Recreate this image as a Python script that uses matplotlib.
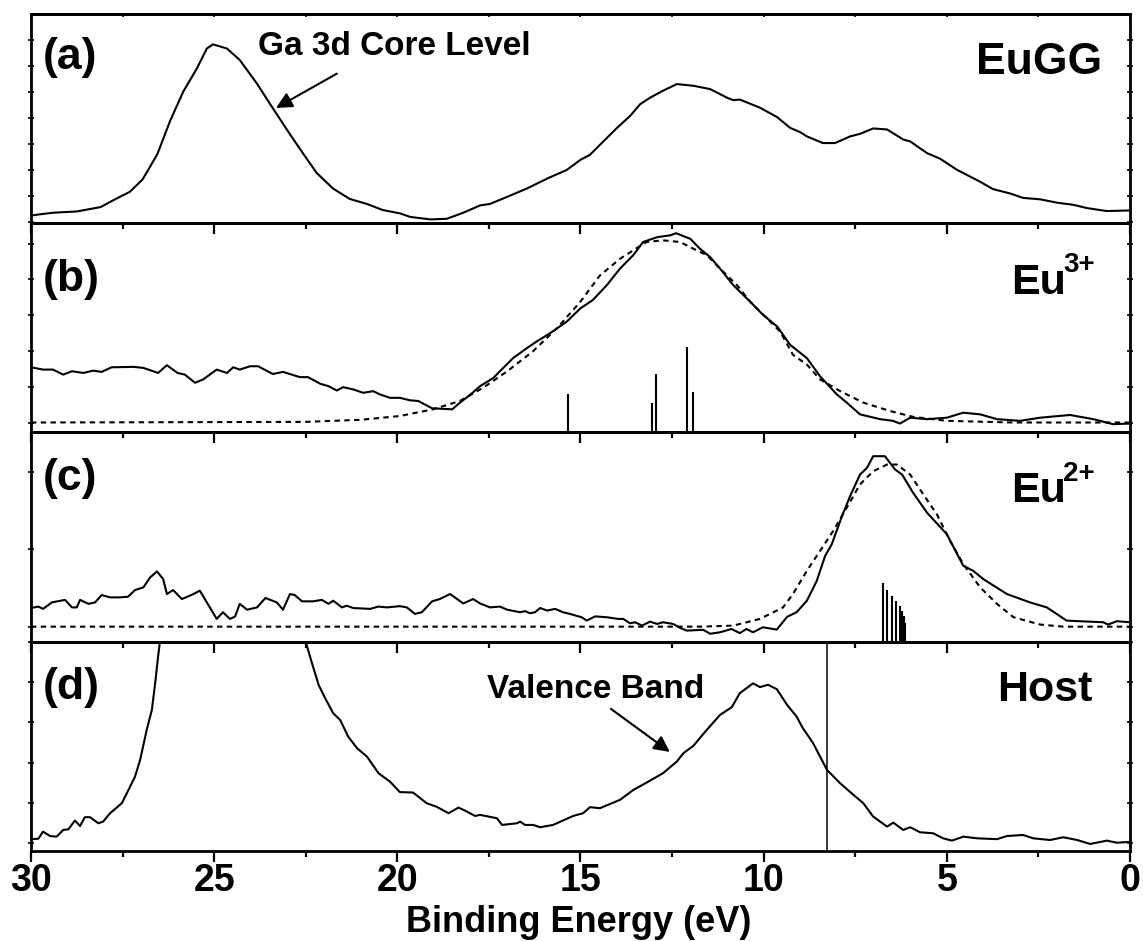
import matplotlib
matplotlib.use("Agg")
import matplotlib.pyplot as plt
import numpy as np
from matplotlib.ticker import MultipleLocator

plt.rcParams['font.family'] = ['Liberation Sans', 'DejaVu Sans']
plt.rcParams['font.weight'] = 'bold'

# (a) EuGG spectrum
a_ev = [30.0, 29.4, 28.75, 28.1, 27.75, 27.3, 26.95, 26.55, 26.2, 25.84, 25.47, 25.2, 25.03,
        24.65, 24.3, 23.83, 23.4, 22.93, 22.56, 22.2, 21.75, 21.3, 20.83, 20.4, 19.93, 19.65,
        19.1, 18.65, 18.2, 17.74, 17.47, 17.0, 16.46, 15.9, 15.37, 15.0, 14.74, 14.38, 14.0,
        13.65, 13.37, 13.1, 12.75, 12.37, 11.92, 11.46, 11.0, 10.83, 10.65, 10.1, 9.63, 9.28,
        9.0, 8.82, 8.38, 8.05, 7.64, 7.37, 7.01, 6.63, 6.19, 6.0, 5.54, 5.18, 4.72, 4.09, 3.74,
        3.27, 2.92, 2.45, 1.99, 1.55, 1.17, 0.63, 0.0]
a_int = [0.037, 0.05, 0.056, 0.077, 0.11, 0.15, 0.21, 0.33, 0.49, 0.63, 0.74, 0.835, 0.855,
         0.835, 0.78, 0.667, 0.55, 0.425, 0.33, 0.24, 0.165, 0.116, 0.092, 0.063, 0.047, 0.03,
         0.018, 0.021, 0.05, 0.085, 0.092, 0.126, 0.166, 0.214, 0.255, 0.303, 0.327, 0.39, 0.456,
         0.512, 0.569, 0.60, 0.633, 0.665, 0.657, 0.641, 0.60, 0.588, 0.591, 0.552, 0.507, 0.456,
         0.435, 0.415, 0.383, 0.383, 0.415, 0.427, 0.453, 0.448, 0.40, 0.391, 0.335, 0.308, 0.255,
         0.198, 0.163, 0.142, 0.121, 0.114, 0.098, 0.088, 0.072, 0.058, 0.061]

# (b) Eu3+ difference spectrum, fit and multiplet lines
b_ev = [30.0, 29.67, 29.4, 29.12, 28.88, 28.57, 28.3, 28.07, 27.8, 27.2, 26.93, 26.53, 26.29,
        26.0, 25.8, 25.52, 25.3, 24.93, 24.65, 24.48, 24.3, 24.02, 23.8, 23.4, 23.12, 22.66,
        22.44, 22.1, 21.88, 21.65, 21.48, 21.2, 20.93, 20.66, 20.47, 20.2, 19.93, 19.65, 19.43,
        19.05, 18.5, 18.29, 18.0, 17.74, 17.38, 17.2, 16.84, 16.46, 16.19, 15.83, 15.37, 15.0,
        14.66, 14.28, 13.92, 13.56, 13.29, 12.91, 12.55, 12.39, 12.0, 11.74, 11.46, 11.19,
        10.83, 10.37, 10.02, 9.63, 9.28, 8.82, 8.46, 8.0, 7.73, 7.37, 6.82, 6.47, 6.28, 6.0,
        5.54, 5.0, 4.55, 4.09, 3.63, 3.0, 2.45, 1.64, 1.0, 0.46, 0.0]
b_int = [0.311, 0.30, 0.30, 0.276, 0.292, 0.284, 0.295, 0.289, 0.311, 0.313, 0.308, 0.284,
         0.321, 0.284, 0.276, 0.237, 0.253, 0.30, 0.284, 0.311, 0.30, 0.316, 0.316, 0.279,
         0.289, 0.264, 0.264, 0.232, 0.221, 0.20, 0.216, 0.205, 0.189, 0.197, 0.181, 0.165,
         0.165, 0.153, 0.15, 0.115, 0.11, 0.142, 0.181, 0.221, 0.26, 0.292, 0.355, 0.403, 0.435,
         0.474, 0.53, 0.593, 0.633, 0.704, 0.783, 0.847, 0.91, 0.933, 0.942, 0.952, 0.925,
         0.878, 0.838, 0.783, 0.704, 0.625, 0.562, 0.506, 0.419, 0.355, 0.268, 0.181, 0.142,
         0.086, 0.063, 0.055, 0.042, 0.07, 0.063, 0.07, 0.094, 0.086, 0.063, 0.055, 0.07, 0.083,
         0.063, 0.039, 0.042]
b_fit_ev = [30.0, 22.5, 21.0, 19.93, 19.03, 18.29, 17.66, 17.0, 16.3, 15.64, 15.0, 14.47, 13.92,
            13.56, 13.2, 12.75, 12.28, 11.92, 11.55, 11.19, 10.73, 10.37, 9.91, 9.55, 9.2, 8.82,
            8.46, 7.91, 7.28, 6.55, 5.92, 5.0, 3.18, 0.0]
b_fit = [0.047, 0.05, 0.06, 0.078, 0.11, 0.15, 0.213, 0.292, 0.387, 0.498, 0.625, 0.75, 0.83,
         0.87, 0.91, 0.918, 0.91, 0.878, 0.847, 0.783, 0.704, 0.625, 0.545, 0.482, 0.371, 0.324,
         0.253, 0.197, 0.142, 0.102, 0.074, 0.055, 0.047, 0.047]
b_lines_ev = [15.34, 13.06, 12.94, 12.08, 11.94]
b_lines = [0.183, 0.142, 0.279, 0.408, 0.194]

# (c) Eu2+ difference spectrum, fit and multiplet lines
c_ev = [30.0, 29.8, 29.67, 29.43, 29.07, 28.88, 28.75, 28.66, 28.43, 28.25, 28.07, 27.84,
        27.57, 27.35, 27.16, 26.93, 26.75, 26.56, 26.39, 26.29, 26.12, 25.88, 25.6, 25.39,
        25.2, 24.93, 24.76, 24.57, 24.43, 24.3, 24.1, 23.83, 23.6, 23.29, 23.12, 22.93, 22.8,
        22.6, 22.3, 22.06, 21.88, 21.75, 21.51, 21.38, 21.2, 20.74, 20.52, 20.28, 19.93, 19.74,
        19.52, 19.33, 19.05, 18.84, 18.56, 18.2, 17.93, 17.74, 17.47, 17.2, 17.0, 16.65, 16.51,
        16.38, 16.24, 16.1, 15.91, 15.69, 15.48, 15.29, 14.97, 14.83, 14.6, 14.28, 13.97, 13.83,
        13.65, 13.51, 13.32, 13.1, 12.91, 12.75, 12.47, 12.28, 12.1, 11.65, 11.46, 11.19, 10.88,
        10.65, 10.47, 10.29, 10.02, 9.64, 9.36, 9.1, 8.82, 8.55, 8.32, 8.14, 7.86, 7.64, 7.37,
        7.18, 7.01, 6.69, 6.55, 6.41, 6.22, 5.92, 5.54, 5.0, 4.55, 4.28, 4.0, 3.36, 2.73, 2.27,
        1.73, 1.37, 0.73, 0.6, 0.36, 0.0]
c_int = [0.16, 0.167, 0.156, 0.187, 0.199, 0.163, 0.163, 0.199, 0.18, 0.187, 0.222, 0.211,
         0.211, 0.214, 0.246, 0.259, 0.306, 0.335, 0.298, 0.227, 0.246, 0.203, 0.224, 0.243,
         0.187, 0.108, 0.14, 0.108, 0.119, 0.18, 0.152, 0.163, 0.208, 0.187, 0.152, 0.227, 0.222,
         0.192, 0.192, 0.199, 0.18, 0.195, 0.163, 0.171, 0.16, 0.156, 0.167, 0.163, 0.169, 0.163,
         0.132, 0.14, 0.192, 0.203, 0.227, 0.182, 0.203, 0.182, 0.163, 0.167, 0.152, 0.14, 0.145,
         0.135, 0.14, 0.16, 0.148, 0.156, 0.14, 0.132, 0.116, 0.10, 0.12, 0.116, 0.108, 0.108,
         0.087, 0.092, 0.076, 0.095, 0.084, 0.092, 0.084, 0.065, 0.052, 0.056, 0.037, 0.044, 0.06,
         0.04, 0.06, 0.044, 0.068, 0.057, 0.118, 0.14, 0.195, 0.29, 0.41, 0.465, 0.60, 0.695,
         0.798, 0.83, 0.886, 0.886, 0.854, 0.822, 0.798, 0.711, 0.616, 0.513, 0.362, 0.338, 0.298,
         0.227, 0.187, 0.163, 0.10, 0.097, 0.092, 0.081, 0.097, 0.092]
c_fit_ev = [30.0, 11.74, 10.83, 10.1, 9.47, 9.2, 8.82, 8.46, 8.1, 7.73, 7.37, 7.01, 6.63, 6.36,
            6.0, 5.64, 5.27, 4.91, 4.55, 4.09, 3.63, 3.18, 2.45, 1.82, 0.0]
c_fit = [0.071, 0.071, 0.076, 0.108, 0.163, 0.227, 0.338, 0.433, 0.529, 0.64, 0.751, 0.814,
         0.846, 0.846, 0.798, 0.703, 0.608, 0.481, 0.37, 0.259, 0.18, 0.116, 0.081, 0.071, 0.071]
c_lines_ev = [6.75, 6.62, 6.50, 6.38, 6.29, 6.22, 6.16, 6.13]
c_lines = [0.279, 0.246, 0.219, 0.195, 0.168, 0.144, 0.124, 0.087]

# (d) host spectrum (Ga 3d peak runs off the top)
d_ev = [30.0, 29.8, 29.67, 29.48, 29.3, 29.12, 28.98, 28.8, 28.66, 28.53, 28.39, 28.16, 28.03,
        27.84, 27.52, 27.34, 27.16, 27.02, 26.84, 26.7, 26.61, 26.53, 26.48, 26.3, 24.5, 22.6,
        22.49, 22.33, 22.15, 21.97, 21.75, 21.56, 21.34, 21.1, 20.83, 20.51, 20.2, 19.93, 19.57,
        19.2, 18.93, 18.6, 18.33, 18.1, 17.88, 17.74, 17.28, 17.14, 16.73, 16.65, 16.51, 16.29,
        16.1, 15.75, 15.48, 15.2, 14.93, 14.74, 14.47, 13.92, 13.56, 13.2, 12.75, 12.37, 12.19,
        11.92, 11.55, 11.19, 10.87, 10.65, 10.29, 10.1, 9.88, 9.64, 9.36, 9.1, 8.93, 8.65, 8.27,
        7.91, 7.55, 7.28, 7.01, 6.63, 6.46, 6.19, 6.0, 5.73, 5.37, 5.1, 4.86, 4.55, 4.17, 3.63,
        3.36, 2.92, 2.64, 2.18, 1.82, 1.44, 1.09, 0.63, 0.36, 0.0]
d_int = [0.055, 0.057, 0.091, 0.07, 0.067, 0.099, 0.102, 0.144, 0.118, 0.16, 0.16, 0.131,
         0.139, 0.179, 0.227, 0.29, 0.354, 0.434, 0.578, 0.673, 0.80, 0.928, 1.0, 1.3, 3.0, 1.1,
         0.992, 0.897, 0.793, 0.729, 0.657, 0.625, 0.545, 0.49, 0.45, 0.37, 0.33, 0.28, 0.278,
         0.227, 0.21, 0.179, 0.206, 0.187, 0.166, 0.171, 0.155, 0.123, 0.131, 0.139, 0.123, 0.123,
         0.112, 0.123, 0.144, 0.166, 0.179, 0.208, 0.203, 0.243, 0.29, 0.325, 0.37, 0.426, 0.466,
         0.501, 0.578, 0.649, 0.686, 0.753, 0.80, 0.782, 0.793, 0.772, 0.697, 0.641, 0.586,
         0.514, 0.386, 0.322, 0.267, 0.227, 0.163, 0.115, 0.134, 0.099, 0.112, 0.088, 0.083,
         0.059, 0.048, 0.067, 0.059, 0.055, 0.07, 0.075, 0.059, 0.051, 0.064, 0.051, 0.032,
         0.048, 0.038, 0.042]
d_edge_ev = 8.27

x_ticks = [30, 25, 20, 15, 10, 5, 0]

fig, axes = plt.subplots(4, 1, figsize=(11.43, 9.41), dpi=100, sharex=True)
fig.subplots_adjust(left=0.0271, right=0.9886, top=0.9851, bottom=0.096, hspace=0)
ax_a, ax_b, ax_c, ax_d = axes

lw = 1.5
dash = (0, (2.6, 2.1))

ax_a.plot(a_ev, a_int, color='black', lw=lw)

ax_b.plot(b_ev, b_int, color='black', lw=lw)
ax_b.plot(b_fit_ev, b_fit, color='black', lw=lw, linestyle=dash)
ax_b.vlines(b_lines_ev, 0, b_lines, color='black', lw=1.5)

ax_c.plot(c_ev, c_int, color='black', lw=lw)
ax_c.plot(c_fit_ev, c_fit, color='black', lw=lw, linestyle=dash)
ax_c.vlines(c_lines_ev, 0, c_lines, color='black', lw=1.5)

ax_d.plot(d_ev, d_int, color='black', lw=lw)
ax_d.axvline(d_edge_ev, color='black', lw=1.1)

y_tick_sets = [
    np.arange(0.006, 1.0, 0.1245),
    np.arange(0.047, 1.0, 0.171),
    np.arange(0.071, 1.0, 0.37),
    np.arange(0.035, 1.01, 0.193),
]

for ax, yt in zip(axes, y_tick_sets):
    ax.set_xlim(30, 0)
    ax.set_ylim(0, 1)
    ax.patch.set_alpha(0)
    for sp in ax.spines.values():
        sp.set_linewidth(2)
    ax.set_xticks(x_ticks)
    ax.xaxis.set_minor_locator(MultipleLocator(2.5))
    ax.tick_params(axis='x', which='major', direction='out', length=8, width=1.6,
                   top=False, bottom=True, labelbottom=False)
    ax.tick_params(axis='x', which='minor', direction='out', length=4.5, width=1.6,
                   top=False, bottom=True)
    ax.set_yticks(yt)
    ax.tick_params(axis='y', which='major', direction='inout', length=4, width=1.2,
                   left=True, right=True, labelleft=False, labelright=False)

# short inward ticks along the very top edge
sec = ax_a.secondary_xaxis('top')
sec.set_xticks(x_ticks)
sec.xaxis.set_minor_locator(MultipleLocator(2.5))
sec.tick_params(axis='x', which='both', direction='in', length=2.5, width=1.2, labeltop=False)
sec.spines['top'].set_linewidth(2)

ax_d.tick_params(axis='x', which='major', labelbottom=True, labelsize=27, pad=1)
for lab in ax_d.get_xticklabels():
    lab.set_fontweight('bold')

fig.text(0.506, 0.0099, 'Binding Energy (eV)', ha='center', va='baseline',
         fontsize=26, fontweight='bold')

# panel letters and labels
for ax, letter, yb in zip(axes, ['(a)', '(b)', '(c)', '(d)'], [0.739, 0.678, 0.724, 0.726]):
    ax.text(0.011, yb, letter, transform=ax.transAxes, ha='left', va='baseline',
            fontsize=32, fontweight='bold')

ax_a.text(0.9745, 0.713, 'EuGG', transform=ax_a.transAxes, ha='right', va='baseline',
          fontsize=32, fontweight='bold')
ax_b.text(0.8917, 0.663, 'Eu', transform=ax_b.transAxes, ha='left', va='baseline',
          fontsize=31, fontweight='bold')
ax_b.text(0.939, 0.767, '3+', transform=ax_b.transAxes, ha='left', va='baseline',
          fontsize=20, fontweight='bold')
ax_c.text(0.8917, 0.667, 'Eu', transform=ax_c.transAxes, ha='left', va='baseline',
          fontsize=31, fontweight='bold')
ax_c.text(0.939, 0.767, '2+', transform=ax_c.transAxes, ha='left', va='baseline',
          fontsize=20, fontweight='bold')
ax_d.text(0.9663, 0.716, 'Host', transform=ax_d.transAxes, ha='right', va='baseline',
          fontsize=31, fontweight='bold')

ax_a.text(0.2066, 0.802, 'Ga 3d Core Level', transform=ax_a.transAxes, ha='left',
          va='baseline', fontsize=24, fontweight='bold')
ax_a.annotate('', xy=(23.31, 0.551), xytext=(21.65, 0.715),
              arrowprops=dict(arrowstyle='-|>', color='black', lw=1.5, mutation_scale=24,
                              shrinkA=0, shrinkB=0))

ax_d.text(0.415, 0.729, 'Valence Band', transform=ax_d.transAxes, ha='left',
          va='baseline', fontsize=24, fontweight='bold')
ax_d.annotate('', xy=(12.56, 0.472), xytext=(14.17, 0.678),
              arrowprops=dict(arrowstyle='-|>', color='black', lw=1.5, mutation_scale=24,
                              shrinkA=0, shrinkB=0))

fig.savefig('out.png', dpi=100)
